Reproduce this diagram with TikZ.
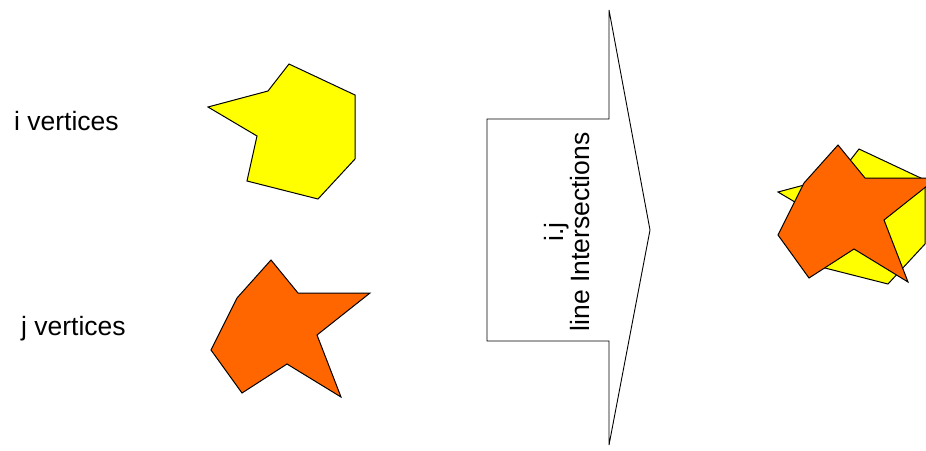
\documentclass[tikz,border=0pt]{standalone}
\usepackage{fontspec}
\setmainfont{Liberation Sans}
\definecolor{polyyellow}{HTML}{FFFF00}
\definecolor{polyorange}{HTML}{FF6600}
\tikzset{
  poly/.style={draw=black, line width=1pt, line join=miter},
  lbl/.style={inner sep=0pt, font=\fontsize{26.5}{26}\selectfont},
  ypoly/.pic={\path[poly, fill=polyyellow] (289,64) -- (355,95) -- (355,159) -- (318,199) -- (247,181) -- (257,136) -- (208,107) -- (268,91) -- cycle;},
  opoly/.pic={\path[poly, fill=polyorange] (271,260) -- (298,293) -- (370,293) -- (317,335) -- (341,397) -- (287,364) -- (242,393) -- (211,350) -- (237,298) -- cycle;}
}
\begin{document}
\begin{tikzpicture}[x=1pt, y=-1pt]
\useasboundingbox (0,0) rectangle (926,450);
\clip (0,0) rectangle (926,450);
\fill[white] (0,0) rectangle (926,450);
% left polygons
\pic (yA) at (0,0) {ypoly};
\pic (oA) at (0,0) {opoly};
% labels
\node[lbl, anchor=base west] (ilabel) at (14,130) {i vertices};
\node[lbl, anchor=base west] (jlabel) at (21,335) {j vertices};
% block arrow
\draw[line width=0.9pt, line join=miter] (609,10) -- (609,119) -- (487,119) -- (487,341) -- (609,341) -- (609,445) -- (650,230) -- cycle;
\node[lbl, rotate=90, align=center] (arrowtext) at (567,232) {i.j\\[-0.5pt]line Intersections};
% combined result
\pic (yB) at (570,85) {ypoly};
\pic (oB) at (567,-115) {opoly};
\end{tikzpicture}
\end{document}
